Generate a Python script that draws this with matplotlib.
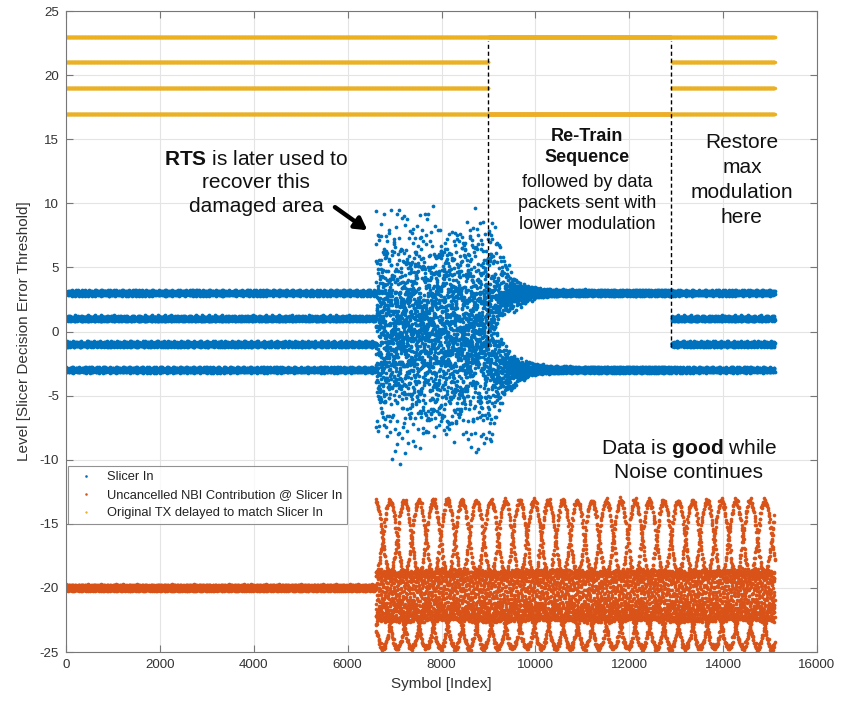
import numpy as np
import matplotlib
matplotlib.use("Agg")
import matplotlib.pyplot as plt

# ---------------- data ----------------
n_symbols = 15100          # last symbol index plotted
noise_start = 6600         # NBI burst begins
retrain_start = 9000       # Re-Train sequence begins
restore_start = 12900      # max modulation restored
qam_levels = [-3, -1, 1, 3]      # full modulation levels
retrain_levels = [-3, 3]         # lower modulation levels
tx_offset = 20                   # "Original TX" drawn shifted up by 20
nbi_offset = -20                 # NBI contribution drawn shifted down by 20

# interference tones seen in the damaged area (cycles/symbol, level units)
burst_freqs = [0.41421, 0.73205, 0.64575, 0.31662, 0.60555]
burst_amps = [2.4, 2.0, 1.7, 1.4, 1.1]
burst_decay = 340                # symbols for the burst to settle after retrain

# residual fuzz of the clean bands
band_freqs = [0.3820, 0.1716, 0.5858]
band_amps = [0.12, 0.09, 0.06]

# uncancelled NBI traces after the burst starts
nbi_period = 614
nbi_centers = [-16.1, -16.1, -20.6, -23.0, -23.0, -20.6, -20.6, -20.6,
               -16.1, -16.1, -20.6, -23.0, -23.0, -20.6, -20.6, -20.6]
nbi_amps = [2.9, 2.9, 1.9, 1.7, 1.7, 1.9, 1.9, 1.9,
            2.9, 2.9, 1.9, 1.7, 1.7, 1.9, 1.9, 1.9]
nbi_phases_deg = [0, 7, 22, 90, 97, 67, 112, 157,
                  180, 187, 202, 270, 277, 247, 292, 337]

xticks = list(range(0, 16001, 2000))
yticks = list(range(-25, 26, 5))

# ---------------- build series ----------------
n = np.arange(n_symbols)
lv4 = np.array(qam_levels)[n % 4]
lv2 = np.array(retrain_levels)[n % 2]
in_retrain = (n >= retrain_start) & (n < restore_start)
tx = np.where(in_retrain, lv2, lv4)

band = sum(a * np.cos(2 * np.pi * f * n) for f, a in zip(band_freqs, band_amps))
burst = sum(a * np.cos(2 * np.pi * f * n + i) for i, (f, a) in enumerate(zip(burst_freqs, burst_amps)))
env = np.where(n < noise_start, 0.0,
               np.where(n < retrain_start, 1.0,
                        np.exp(-(n - retrain_start) / burst_decay)))
slicer_in = tx + band + env * burst

k = n % len(nbi_centers)
nbi_tr = (np.array(nbi_centers)[k]
          + np.array(nbi_amps)[k] * np.cos(2 * np.pi * (n - noise_start) / nbi_period
                                           + np.deg2rad(np.array(nbi_phases_deg))[k]))
nbi = np.where(n < noise_start, nbi_offset, nbi_tr) + band

tx_shift = tx + tx_offset

# ---------------- plotting ----------------
plt.rcParams["font.family"] = ["Liberation Sans", "DejaVu Sans"]
plt.rcParams["mathtext.fontset"] = "custom"
plt.rcParams["mathtext.rm"] = "Liberation Sans"
plt.rcParams["mathtext.bf"] = "Liberation Sans:bold"
plt.rcParams["axes.unicode_minus"] = False

fig = plt.figure(figsize=(8.42, 7.02), dpi=100)
ax = fig.add_axes([0.0784, 0.0712, 0.8919, 0.9131])

blue = "#0072BD"
orange = "#D95319"
yellow = "#EDB120"

h1, = ax.plot(n, slicer_in, "o", ms=2.7, mew=0, color=blue, label="Slicer In")
h2, = ax.plot(n, nbi, "o", ms=2.6, mew=0, color=orange,
              label="Uncancelled NBI Contribution @ Slicer In")
h3, = ax.plot(n, tx_shift, "o", ms=2.4, mew=0, color=yellow,
              label="Original TX delayed to match Slicer In")

for xv in (retrain_start, restore_start):
    ax.plot([xv, xv], [-1.2, 22.7], color="black", lw=1.0, ls=(0, (3, 2)))

ax.set_xlim(0, 16000)
ax.set_ylim(-25, 25)
ax.set_xticks(xticks)
ax.set_yticks(yticks)
ax.grid(True, color="#e4e4e4", lw=0.8)
ax.set_axisbelow(True)
ax.tick_params(direction="in", top=True, right=True, length=5, width=0.8,
               color="#777777", labelsize=9.6, labelcolor="#333333", pad=5)
for s in ax.spines.values():
    s.set_color("#777777")
    s.set_linewidth(0.8)
ax.set_xlabel("Symbol [Index]", fontsize=11, color="#333333", labelpad=4)
ax.set_ylabel("Level [Slicer Decision Error Threshold]", fontsize=11,
              color="#333333", labelpad=6)

txtc = "#111111"
ax.text(4050, 11.6, "$\\mathbf{RTS}$ is later used to\nrecover this\ndamaged area",
        ha="center", va="center", fontsize=15, color=txtc, linespacing=1.3)
ax.annotate("", xy=(6420, 7.9), xytext=(5730, 9.7),
            arrowprops=dict(arrowstyle="-|>,head_length=0.7,head_width=0.4",
                            lw=3.2, color="black", shrinkA=0, shrinkB=0))
ax.text(11100, 14.4, "Re-Train\nSequence", ha="center", va="center",
        fontsize=13, fontweight="bold", color=txtc, linespacing=1.3)
ax.text(11100, 10.0, "followed by data\npackets sent with\nlower modulation",
        ha="center", va="center", fontsize=13, color=txtc, linespacing=1.3)
ax.text(14400, 11.8, "Restore\nmax\nmodulation\nhere", ha="center", va="center",
        fontsize=15, color=txtc, linespacing=1.4)
ax.text(13270, -10.0, "Data is $\\mathbf{good}$ while\nNoise continues",
        ha="center", va="center", fontsize=15, color=txtc, linespacing=1.2)

leg = ax.legend(handles=[h1, h2, h3], loc="upper left",
                bbox_to_anchor=(0.003, 0.290), borderaxespad=0, fontsize=9.3,
                frameon=True, fancybox=False, edgecolor="#777777",
                handlelength=2.0, handletextpad=0.6, borderpad=0.4,
                labelspacing=0.45, markerscale=0.7)
leg.get_frame().set_linewidth(0.8)
for t in leg.get_texts():
    t.set_color("#222222")

fig.savefig("out.png", dpi=100, facecolor="white")
